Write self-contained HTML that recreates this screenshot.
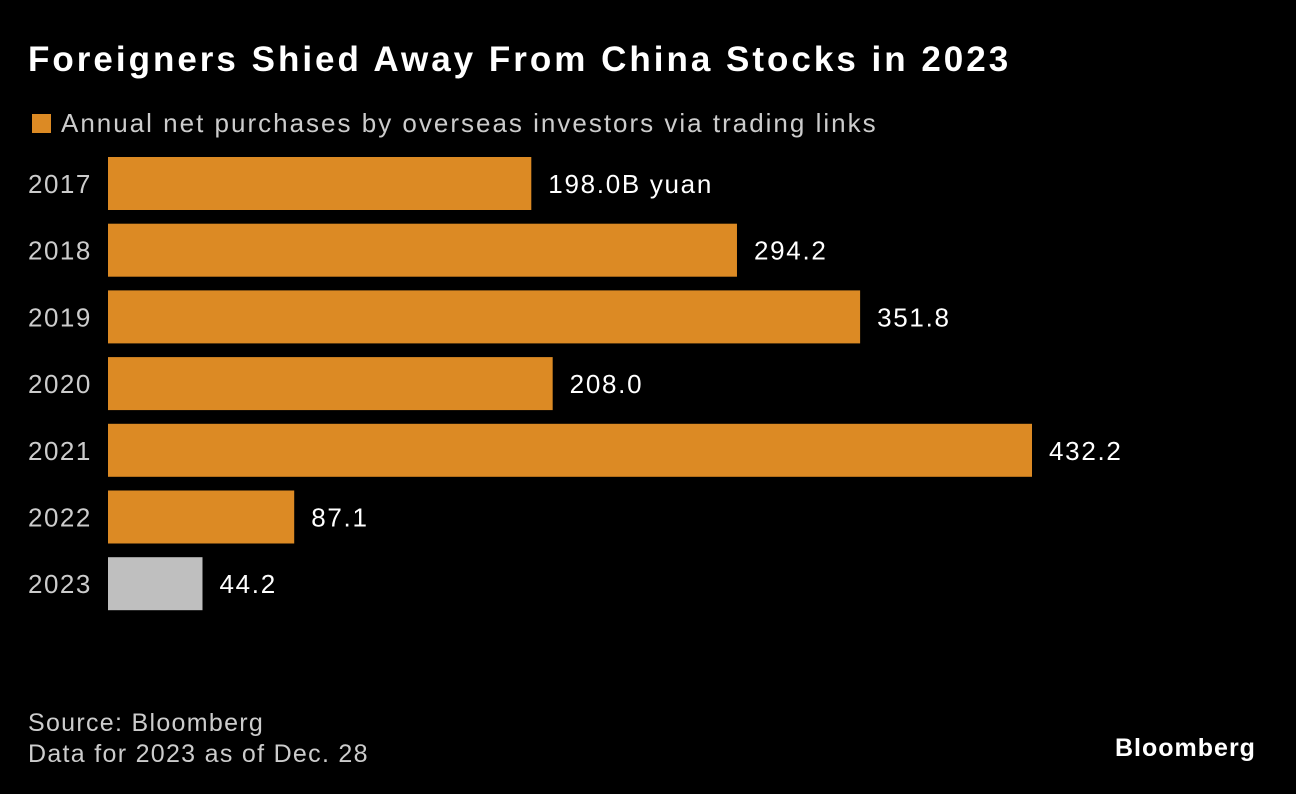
<!DOCTYPE html>
<html><head><meta charset="utf-8"><style>
body{margin:0;background:#000;width:1296px;height:794px;overflow:hidden;font-family:"Liberation Sans",sans-serif;color:#fff;position:relative}
.t{position:absolute;white-space:nowrap}
</style></head><body>
<div class="t" style="left:28px;top:40px;font-size:35px;font-weight:bold;letter-spacing:3px">Foreigners Shied Away From China Stocks in 2023</div>
<div class="t" style="left:32px;top:108px;font-size:26px;color:#ccc;letter-spacing:2px"><span style="display:inline-block;width:19px;height:19px;background:#DC8A24;margin-right:10px;vertical-align:-1px"></span>Annual net purchases by overseas investors via trading links</div>
<svg id="chart" width="1296" height="794" style="position:absolute;left:0;top:0"></svg>
<div class="t" style="left:28px;top:708px;font-size:25px;color:#ccc;line-height:31px;letter-spacing:1.3px">Source: Bloomberg<br>Data for 2023 as of Dec. 28</div>
<div class="t" style="left:1115px;top:734px;font-size:25px;font-weight:bold;letter-spacing:1px">Bloomberg</div>
<script>
const categories=["2017","2018","2019","2020","2021","2022","2023"];
const values=[198.0,294.2,351.8,208.0,432.2,87.1,44.2];
const valueLabels=["198.0B yuan","294.2","351.8","208.0","432.2","87.1","44.2"];
const svg=document.getElementById('chart');
const NS="http://www.w3.org/2000/svg";
const x0=108, scale=924/432.2;
const xs=v=>x0+v*scale;
const ys=i=>157+i*66.7;
categories.forEach((c,i)=>{
  const y=ys(i);
  const r=document.createElementNS(NS,'rect');
  r.setAttribute('x',x0);r.setAttribute('y',y);
  r.setAttribute('width',xs(values[i])-x0);r.setAttribute('height',53);
  r.setAttribute('fill',i===categories.length-1?'#BFBFBF':'#DC8A24');
  
  
  svg.appendChild(r);
  const t=document.createElementNS(NS,'text');
  t.setAttribute('x',28);t.setAttribute('y',y+36);
  t.setAttribute('fill','#ccc');t.setAttribute('font-size','26');
  t.setAttribute('letter-spacing','1.5');
  t.setAttribute('font-family','Liberation Sans, sans-serif');
  t.textContent=c;
  
  
  svg.appendChild(t);
  const v=document.createElementNS(NS,'text');
  v.setAttribute('x',xs(values[i])+17);v.setAttribute('y',y+36);
  v.setAttribute('fill','#fff');v.setAttribute('font-size','26');
  v.setAttribute('letter-spacing','1.7');
  v.setAttribute('font-family','Liberation Sans, sans-serif');
  v.textContent=valueLabels[i];
  
  
  svg.appendChild(v);
});
</script>
</body></html>
